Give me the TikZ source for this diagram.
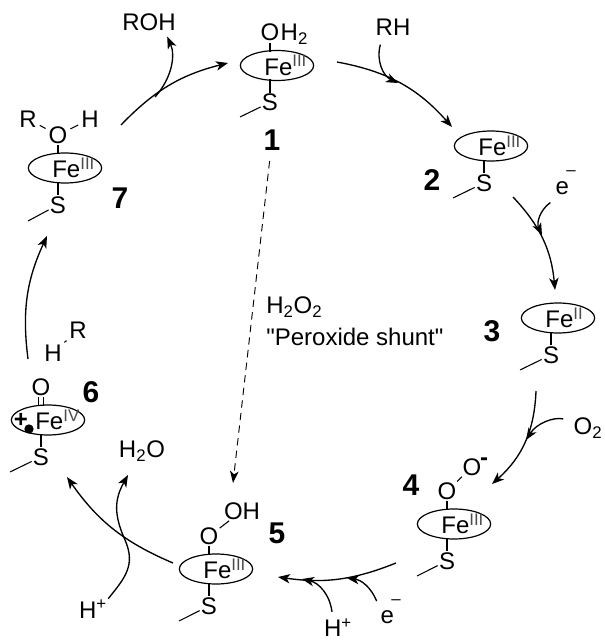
\documentclass[tikz,border=0pt]{standalone}
\usepackage{fontspec}
\setmainfont{Liberation Sans}
\newfontfamily\plainquotes{Liberation Sans}
\usepackage{tikz}
\usetikzlibrary{arrows.meta, positioning, shapes.geometric}
\newcommand{\oxstate}[1]{\textsuperscript{\textcolor{black!70}{#1}}}
\newcommand{\electron}{e\kern-2pt\textsuperscript{\smash{\raisebox{8pt}{--}}}}

\begin{document}
\begin{tikzpicture}[
    x=0.75pt, y=-0.75pt,
    heme/.style={ellipse, draw, line width=0.9pt, inner sep=0pt, minimum width=55pt, minimum height=22.5pt},
    atom/.style={font=\fontsize{18}{20}\selectfont, inner sep=1pt, outer sep=0pt},
    metal/.style={atom, anchor=west, xshift=-10.5pt},
    cpdnum/.style={font=\fontsize{22.5}{24}\bfseries\selectfont, inner sep=0pt},
    bond/.style={line width=0.8pt},
    stem/.style={bond, shorten >=-1.5pt},
    link/.style={bond, shorten <=1.5pt, shorten >=1.5pt},
    arrow/.style={-{Stealth[length=9pt, width=7pt, inset=2.5pt]}, line width=1pt},
    shunt/.style={-{Stealth[length=9pt, width=6.5pt, inset=2.5pt]}, line width=0.7pt, dash pattern=on 5.5pt off 4pt},
]
\useasboundingbox (0,0) rectangle (604,642);

% Complex 1
\node[heme] (e1) at (277,65.5) {};
\node[metal] (fe1) at (e1) {Fe\oxstate{III}};
\node[atom, below=8.6pt of e1, xshift=-5.25pt] (s1) {S};
\node[atom, above=5.5pt of e1, xshift=-5.25pt] (o1) {O};
\node[atom, anchor=base west, inner xsep=0pt] (h1) at (o1.base east) {H\textsubscript{2}};
\coordinate (t1) at (240,117);
\draw[stem] (s1) -- (s1 |- e1.south);
\draw[stem] (o1) -- (o1 |- e1.north);
\draw[bond] (s1) -- (t1);
\node[cpdnum] (n1) at (272,140) {1};

% Complex 2
\node[heme] (e2) at (491,146) {};
\node[metal] (fe2) at (e2) {Fe\oxstate{III}};
\node[atom, below=8.6pt of e2, xshift=-5.25pt] (s2) {S};
\coordinate (t2) at (453,198);
\draw[stem] (s2) -- (s2 |- e2.south);
\draw[bond] (s2) -- (t2);
\node[cpdnum] (n2) at (432,180) {2};

% Complex 3
\node[heme] (e3) at (558,318) {};
\node[metal] (fe3) at (e3) {Fe\oxstate{II}};
\node[atom, below=8.6pt of e3, xshift=-5.25pt] (s3) {S};
\coordinate (t3) at (520,370);
\draw[stem] (s3) -- (s3 |- e3.south);
\draw[bond] (s3) -- (t3);
\node[cpdnum] (n3) at (492,331) {3};

% Complex 4
\node[heme] (e4) at (454,524) {};
\node[metal] (fe4) at (e4) {Fe\oxstate{III}};
\node[atom, below=8.6pt of e4, xshift=-5.25pt] (s4) {S};
\node[atom, above=5.5pt of e4, xshift=-5.25pt] (o4) {O};
\node[atom] (oo4) at (472,467) {O};
\node[atom, font=\fontsize{18}{20}\bfseries\selectfont] (m4) at (484,462) {-};
\coordinate (t4) at (417,576);
\draw[stem] (s4) -- (s4 |- e4.south);
\draw[stem] (o4) -- (o4 |- e4.north);
\draw[bond] (s4) -- (t4);
\draw[bond] (o4) -- (oo4);
\node[cpdnum] (n4) at (411,485) {4};

% Complex 5
\node[heme] (e5) at (216,569) {};
\node[metal] (fe5) at (e5) {Fe\oxstate{III}};
\node[atom, below=8.6pt of e5, xshift=-5.25pt] (s5) {S};
\node[atom, above=5.5pt of e5, xshift=-5.25pt] (o5) {O};
\node[atom] (oh5) at (242,511) {OH};
\coordinate (t5) at (179,621);
\draw[stem] (s5) -- (s5 |- e5.south);
\draw[stem] (o5) -- (o5 |- e5.north);
\draw[bond] (s5) -- (t5);
\draw[bond] (o5) -- (oh5);
\node[cpdnum] (n5) at (277,533) {5};

% Complex 6
\node[heme] (e6) at (48,420) {};
\node[metal] (fe6) at (e6) {Fe\oxstate{IV}};
\node[atom, below=8.6pt of e6, xshift=-5.25pt] (s6) {S};
\node[atom, above=5.5pt of e6, xshift=-5.25pt] (o6) {O};
\node[atom, font=\fontsize{18}{20}\bfseries\selectfont] (p6) at (21,420) {+};
\node[circle, fill, inner sep=0pt, minimum size=7pt] (d6) at (29,429) {};
\coordinate (t6) at (10,472);
\draw[stem] (s6) -- (s6 |- e6.south);
\draw[stem] ([xshift=-2.2pt]o6.south) -- ([xshift=-2.2pt]o6.south |- e6.north);
\draw[stem] ([xshift=2.2pt]o6.south) -- ([xshift=2.2pt]o6.south |- e6.north);
\draw[bond] (s6) -- (t6);
\node[cpdnum] (n6) at (91,392) {6};
\node[atom] (rh6) at (53,353) {H};
\node[atom] (rr6) at (78,330) {R};
\draw[link] (rh6) -- (rr6);

% Complex 7
\node[heme] (e7) at (65,168) {};
\node[metal] (fe7) at (e7) {Fe\oxstate{III}};
\node[atom, below=8.6pt of e7, xshift=-5.25pt] (s7) {S};
\node[atom, above=5.5pt of e7, xshift=-5.25pt] (o7) {O};
\node[atom] (r7) at (28,119) {R};
\node[atom] (h7) at (90,119) {H};
\coordinate (t7) at (28,221);
\draw[stem] (s7) -- (s7 |- e7.south);
\draw[stem] (o7) -- (o7 |- e7.north);
\draw[bond] (s7) -- (t7);
\draw[link] (o7) -- (r7);
\draw[link] (o7) -- (h7);
\node[cpdnum] (n7) at (120,198) {7};

% Substrates and products
\node[atom] (roh) at (149,22) {ROH};
\node[atom] (rh) at (393,27) {RH};
\node[atom] (e2in) at (566,188) {\electron};
\node[atom] (o2in) at (588,428) {O\textsubscript{2}};
\node[atom] (e4in) at (391,617) {\electron};
\node[atom] (h4in) at (338,627.5) {H\textsuperscript{+}};
\node[atom] (h5in) at (93,609) {H\textsuperscript{+}};
\node[atom] (h2o) at (142,451) {H\textsubscript{2}O};
\node[atom, anchor=west] (h2o2) at (265,307) {H\textsubscript{2}O\textsubscript{2}};
\node[atom, anchor=west] (shunt) at (265,337) {\plainquotes "Peroxide shunt"};

% Free ends of the cycle arrows
\coordinate (a1s) at (337,62);
\coordinate (a1e) at (452,127);
\coordinate (a2s) at (513,197);
\coordinate (a2e) at (555,290);
\coordinate (a3s) at (536,391);
\coordinate (a3e) at (492,484);
\coordinate (a4s) at (396,563);
\coordinate (a4e) at (278,577);
\coordinate (a5s) at (173,563);
\coordinate (a5e) at (67,477);
\coordinate (a6s) at (28,359);
\coordinate (a6e) at (47,236);
\coordinate (a7s) at (121,125);
\coordinate (a7e) at (228,63);

% Cycle arrows
\draw[arrow] (a1s) to[bend left=19] (a1e);
\draw[arrow] (a2s) to[bend left=19] (a2e);
\draw[arrow] (a3s) to[bend left=23] (a3e);
\draw[arrow] (a4s) to[bend left=15] (a4e);
\draw[arrow] (a5s) to[bend left=16] (a5e);
\draw[arrow] (a6s) to[bend left=16] (a6e);
\draw[arrow] (a7s) to[bend left=16] (a7e);

% Side arrows joining the cycle
\coordinate (b7) at (155,97);
\coordinate (b1) at (398,83);
\coordinate (b2) at (542,235);
\coordinate (b3) at (526,440);
\coordinate (b4a) at (347,578);
\coordinate (b4b) at (302,579);
\coordinate (b5) at (128,475);
\coordinate (b5m) at (125,540);
\draw[arrow, shorten >=4pt] (b7) to[bend right=33] ([xshift=12pt]roh.south);
\draw[arrow] ([xshift=4.5pt, yshift=-6pt]rh.south west) to[bend right=40] (b1);
\draw[arrow] ([xshift=-3pt, yshift=-5pt]e2in.south west) to[bend right=40] (b2);
\draw[arrow, shorten <=7pt] (o2in) to[bend right=35] (b3);
\draw[arrow] ([xshift=-2pt, yshift=6pt]e4in.north west) to[bend right=30] (b4a);
\draw[arrow] ([xshift=-4.5pt, yshift=4pt]h4in.north) to[bend right=35] (b4b);
\draw[arrow] (h5in.north east) .. controls (125,578) and (136,565) .. (b5m) .. controls (114,515) and (114,500) .. (b5);

% Peroxide shunt
\coordinate (sh5) at (233,483);
\draw[shunt, shorten <=8pt] (n1) -- (sh5);

\end{tikzpicture}
\end{document}
